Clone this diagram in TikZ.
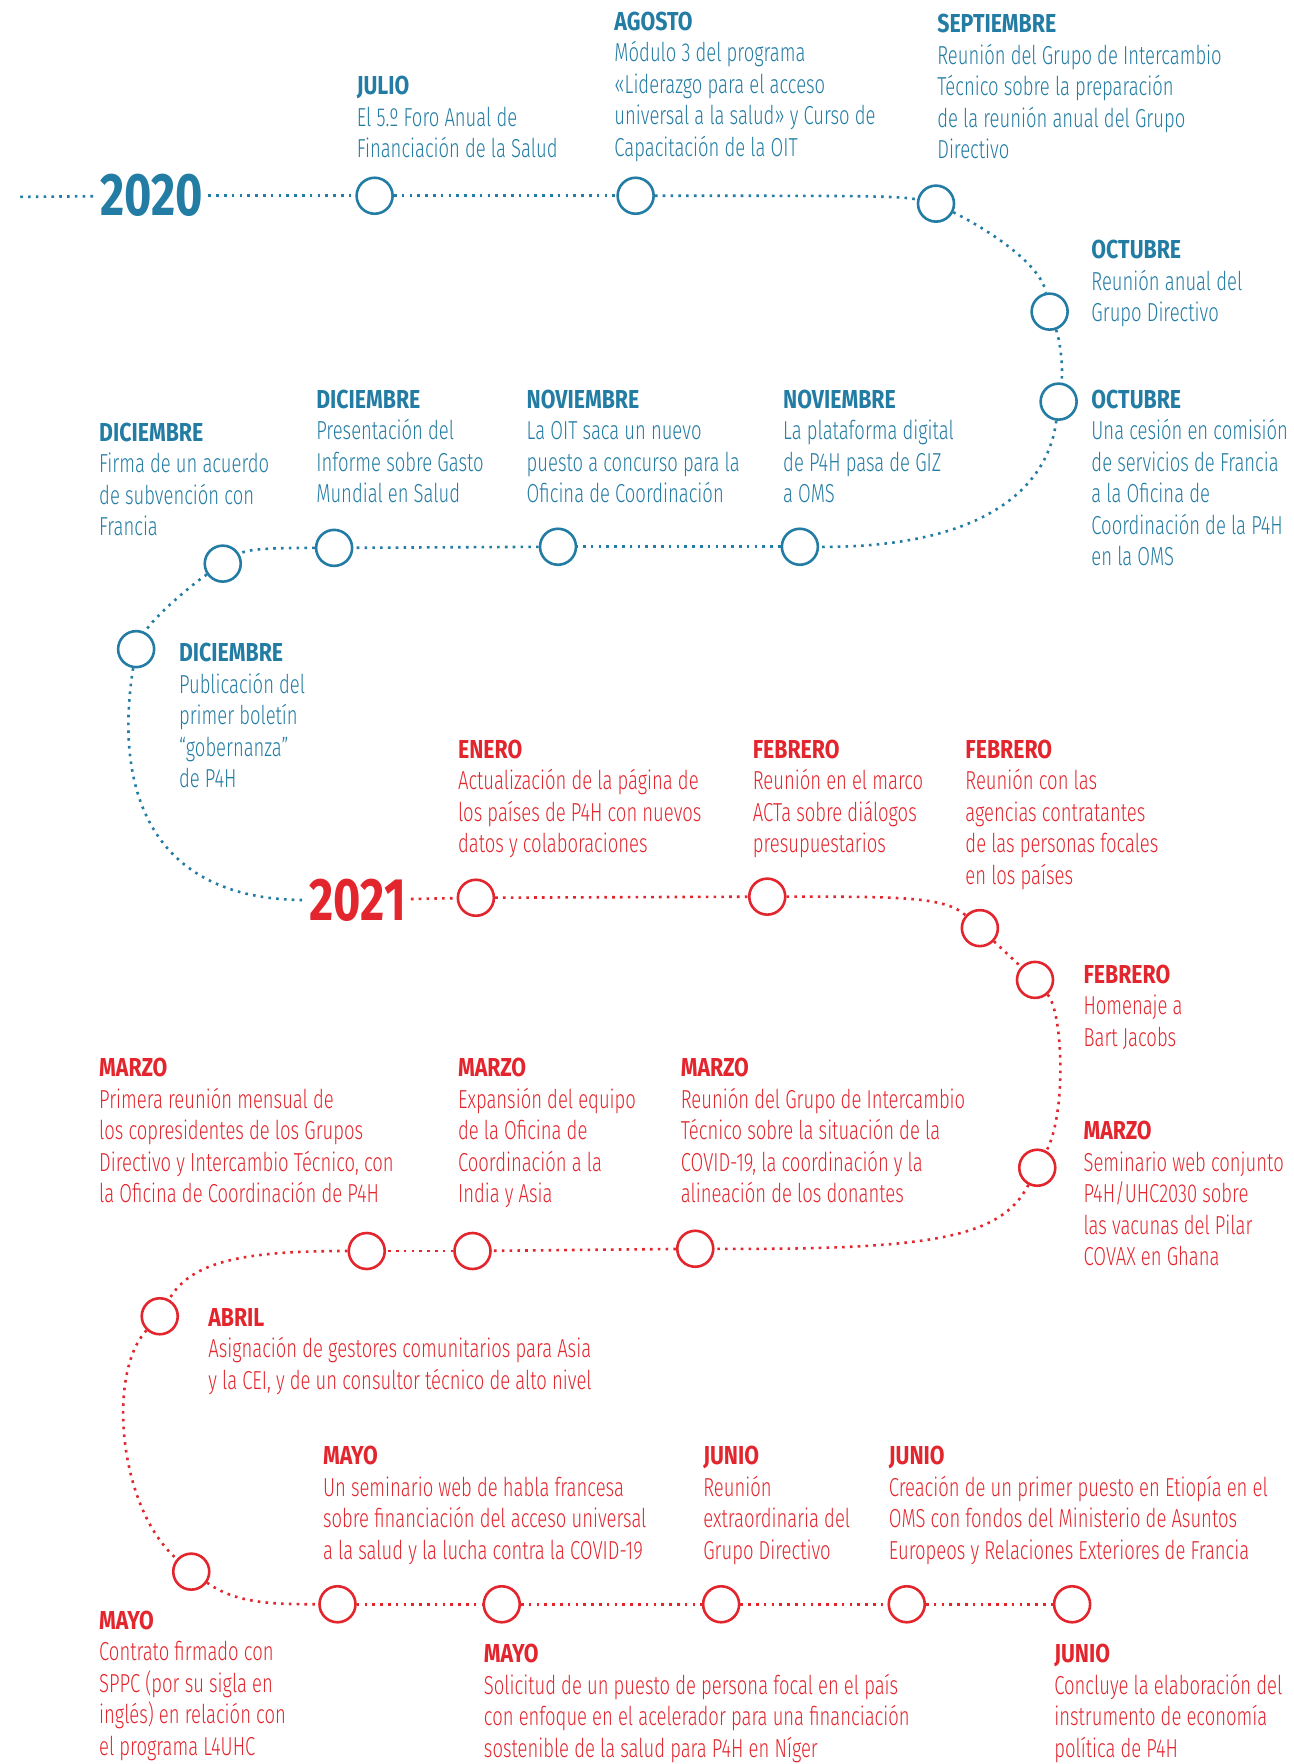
\documentclass[tikz,border=0pt]{standalone}
\usepackage{fontspec}
\usepackage{xcolor}
\setmainfont{Fira Sans Light}[FakeStretch=0.71]
\newfontfamily\headfont{Fira Sans}[FakeStretch=0.82]
\newfontfamily\yearfont{Fira Sans}[FakeStretch=0.78]
\definecolor{p4blue}{HTML}{237CA3}
\definecolor{p4red}{HTML}{E3262E}
\newcommand{\hd}[1]{{\headfont\bfseries #1}}

\tikzset{
  evtext/.style={anchor=base west, align=left, inner sep=0pt, font=\fontsize{26}{31.5}\selectfont},
  evblue/.style={evtext, text=p4blue},
  evred/.style={evtext, text=p4red},
  yearlbl/.style={inner sep=5pt, font=\yearfont\bfseries\fontsize{60}{60}\selectfont},
  dot/.style={circle, draw, line width=2.6pt, minimum size=36pt, inner sep=0pt},
  bluedot/.style={dot, draw=p4blue},
  reddot/.style={dot, draw=p4red},
  trail/.style={line width=2.6pt, dash pattern=on 2.6pt off 5.2pt},
  bluetrail/.style={trail, draw=p4blue},
  redtrail/.style={trail, draw=p4red}
}

\begin{document}
\begin{tikzpicture}[x=1.125pt, y=-1.125pt]
\useasboundingbox (0,0) rectangle (1150.2,1568);

% 2020
\coordinate (s0) at (18,175);
\node[yearlbl, text=p4blue] (y20) at (135,174) {2020};
\node[bluedot] (b1) at (333,174) {};
\node[bluedot] (b2) at (565,174) {};
\node[bluedot] (b3) at (832,181) {};
\node[bluedot] (b4) at (933,277) {};
\node[bluedot] (b5) at (941,357) {};
\node[bluedot] (b6) at (711,486) {};
\node[bluedot] (b7) at (496,486) {};
\node[bluedot] (b8) at (297,487) {};
\node[bluedot] (b9) at (198,501) {};
\node[bluedot] (b10) at (121,577) {};

% 2021
\node[yearlbl, text=p4red] (y21) at (318,800) {2021};
\node[reddot] (r1) at (423,798) {};
\node[reddot] (r2) at (682,797) {};
\node[reddot] (r3) at (871,825) {};
\node[reddot] (r4) at (920,871) {};
\node[reddot] (r5) at (922,1038) {};
\node[reddot] (r6) at (618,1110) {};
\node[reddot] (r7) at (420,1112) {};
\node[reddot] (r8) at (326,1112) {};
\node[reddot] (r9) at (142,1170) {};
\node[reddot] (r10) at (170,1397) {};
\node[reddot] (r11) at (300,1426) {};
\node[reddot] (r12) at (446,1426) {};
\node[reddot] (r13) at (641,1426) {};
\node[reddot] (r14) at (806,1426) {};
\node[reddot] (r15) at (953,1426) {};

% blue trail
\draw[bluetrail] (s0) -- (y20);
\draw[bluetrail] (y20) -- (b1);
\draw[bluetrail] (b1) -- (b2);
\draw[bluetrail] (b2) .. controls (760,174) and (800,174) .. (b3);
\draw[bluetrail] (b3) .. controls (880,205) and (925,235) .. (b4);
\draw[bluetrail] (b4) .. controls (943,305) and (945,330) .. (b5);
\draw[bluetrail] (b5) .. controls (932,430) and (880,487) .. (b6);
\draw[bluetrail] (b6) -- (b7);
\draw[bluetrail] (b7) -- (b8);
\draw[bluetrail] (b8) .. controls (240,487) and (220,488) .. (b9);
\draw[bluetrail] (b9) .. controls (170,520) and (135,550) .. (b10);
\draw[bluetrail] (b10) .. controls (100,710) and (140,800) .. (y21);

% red trail
\draw[redtrail] (y21) -- (r1);
\draw[redtrail] (r1) -- (r2);
\draw[redtrail] (r2) .. controls (800,797) and (840,797) .. (r3);
\draw[redtrail] (r3) -- (r4);
\draw[redtrail] (r4) .. controls (945,900) and (948,990) .. (r5);
\draw[redtrail] (r5) .. controls (890,1100) and (830,1111) .. (r6);
\draw[redtrail] (r6) -- (r7);
\draw[redtrail] (r7) -- (r8);
\draw[redtrail] (r8) .. controls (220,1112) and (170,1120) .. (r9);
\draw[redtrail] (r9) .. controls (95,1220) and (105,1340) .. (r10);
\draw[redtrail] (r10) .. controls (210,1425) and (240,1426) .. (r11);
\draw[redtrail] (r11) -- (r12);
\draw[redtrail] (r12) -- (r13);
\draw[redtrail] (r13) -- (r14);
\draw[redtrail] (r14) -- (r15);

% 2020 events (placed at the baseline of their last line)
\node[evblue] (jul) at (317,140) {\hd{JULIO}\\El 5.º Foro Anual de\\Financiación de la Salud};
\node[evblue] (ago) at (546,139) {\hd{AGOSTO}\\Módulo 3 del programa\\«Liderazgo para el acceso\\universal a la salud» y Curso de\\Capacitación de la OIT};
\node[evblue] (sep) at (833,141) {\hd{SEPTIEMBRE}\\Reunión del Grupo de Intercambio\\Técnico sobre la preparación\\de la reunión anual del Grupo\\Directivo};
\node[evblue] (oct1) at (970,286) {\hd{OCTUBRE}\\Reunión anual del\\Grupo Directivo};
\node[evblue] (oct2) at (970,503) {\hd{OCTUBRE}\\Una cesión en comisión\\de servicios de Francia\\a la Oficina de\\Coordinación de la P4H\\en la OMS};
\node[evblue] (nov1) at (696,447) {\hd{NOVIEMBRE}\\La plataforma digital\\de P4H pasa de GIZ\\a OMS};
\node[evblue] (nov2) at (468,447) {\hd{NOVIEMBRE}\\La OIT saca un nuevo\\puesto a concurso para la\\Oficina de Coordinación};
\node[evblue] (dic1) at (281,447) {\hd{DICIEMBRE}\\Presentación del\\Informe sobre Gasto\\Mundial en Salud};
\node[evblue] (dic2) at (88,476) {\hd{DICIEMBRE}\\Firma de un acuerdo\\de subvención con\\Francia};
\node[evblue] (dic3) at (159,700) {\hd{DICIEMBRE}\\Publicación del\\primer boletín\\“gobernanza”\\de P4H};

% 2021 events
\node[evred] (ene) at (407,758) {\hd{ENERO}\\Actualización de la página de\\los países de P4H con nuevos\\datos y colaboraciones};
\node[evred] (feb1) at (669,758) {\hd{FEBRERO}\\Reunión en el marco\\ACTa sobre diálogos\\presupuestarios};
\node[evred] (feb2) at (858,786) {\hd{FEBRERO}\\Reunión con las\\agencias contratantes\\de las personas focales\\en los países};
\node[evred] (feb3) at (963,930) {\hd{FEBRERO}\\Homenaje a\\Bart Jacobs};
\node[evred] (mar1) at (963,1125) {\hd{MARZO}\\Seminario web conjunto\\P4H/UHC2030 sobre\\las vacunas del Pilar\\COVAX en Ghana};
\node[evred] (mar2) at (605,1069) {\hd{MARZO}\\Reunión del Grupo de Intercambio\\Técnico sobre la situación de la\\COVID-19, la coordinación y la\\alineación de los donantes};
\node[evred] (mar3) at (407,1069) {\hd{MARZO}\\Expansión del equipo\\de la Oficina de\\Coordinación a la\\India y Asia};
\node[evred] (mar4) at (88,1069) {\hd{MARZO}\\Primera reunión mensual de\\los copresidentes de los Grupos\\Directivo y Intercambio Técnico, con\\la Oficina de Coordinación de P4H};
\node[evred] (abr) at (185,1235) {\hd{ABRIL}\\Asignación de gestores comunitarios para Asia\\y la CEI, y de un consultor técnico de alto nivel};
\node[evred] (may1) at (287,1386) {\hd{MAYO}\\Un seminario web de habla francesa\\sobre financiación del acceso universal\\a la salud y la lucha contra la COVID-19};
\node[evred] (jun1) at (625,1386) {\hd{JUNIO}\\Reunión\\extraordinaria del\\Grupo Directivo};
\node[evred] (jun2) at (790,1386) {\hd{JUNIO}\\Creación de un primer puesto en Etiopía en el\\OMS con fondos del Ministerio de Asuntos\\Europeos y Relaciones Exteriores de Francia};
\node[evred] (may2) at (88,1560) {\hd{MAYO}\\Contrato firmado con\\SPPC (por su sigla en\\inglés) en relación con\\el programa L4UHC};
\node[evred] (may3) at (430,1562) {\hd{MAYO}\\Solicitud de un puesto de persona focal en el país\\con enfoque en el acelerador para una financiación\\sostenible de la salud para P4H en Níger};
\node[evred] (jun3) at (937,1562) {\hd{JUNIO}\\Concluye la elaboración del\\instrumento de economía\\política de P4H};

\end{tikzpicture}
\end{document}
